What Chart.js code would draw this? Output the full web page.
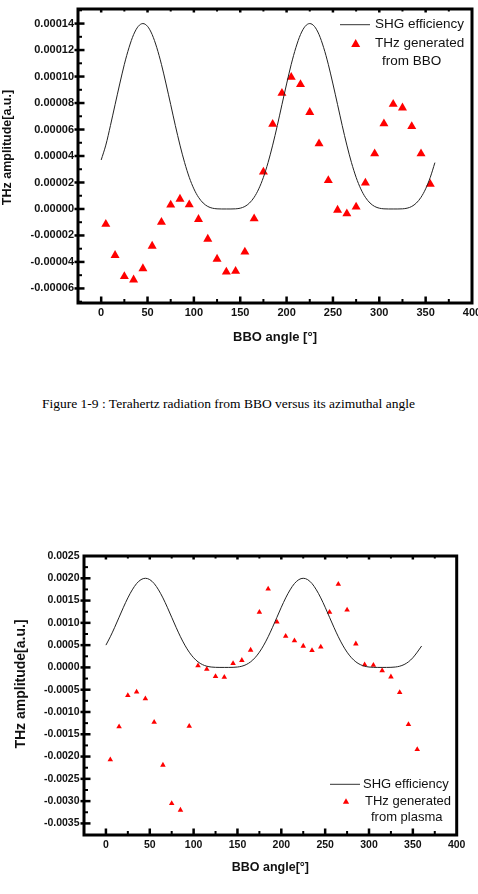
<!DOCTYPE html>
<html>
<head>
<meta charset="utf-8">
<script src="https://cdn.jsdelivr.net/npm/chart.js@4.4.1/dist/chart.umd.min.js"></script>
<style>
  html, body { margin: 0; padding: 0; background: #fff; }
  body { width: 478px; height: 894px; position: relative; overflow: hidden; }
  canvas { position: absolute; left: 0; }
  #c1 { top: 0; }
  #c2 { top: 540px; }
  #caption { position: absolute; left: 42px; top: 396px; font-family: "Liberation Serif", "Times New Roman", serif; font-size: 13.5px; color: #000; white-space: nowrap; }
</style>
</head>
<body>
<canvas id="c1" width="478" height="350"></canvas>
<div id="caption">Figure 1-9 : Terahertz radiation from BBO versus its azimuthal angle</div>
<canvas id="c2" width="478" height="354"></canvas>
<script>
// ---------- data ----------
const shgAngles = [0,5,10,15,20,25,30,35,40,45,50,55,60,65,70,75,80,85,90,95,100,105,110,115,120,125,130,135,140,145,150,155,160,165,170,175,180,185,190,195,200,205,210,215,220,225,230,235,240,245,250,255,260,265,270,275,280,285,290,295,300,305,310,315,320,325,330,335,340,345,350,355,360];

const shgBBO = [3.7e-5,4.82e-5,6.30e-5,7.88e-5,9.44e-5,10.92e-5,12.18e-5,13.17e-5,13.79e-5,14.0e-5,13.79e-5,13.17e-5,12.18e-5,10.92e-5,9.44e-5,7.88e-5,6.30e-5,4.82e-5,3.5e-5,2.39e-5,1.52e-5,0.88e-5,0.45e-5,0.19e-5,0.06e-5,0.01e-5,0,0,0,0.01e-5,0.06e-5,0.19e-5,0.45e-5,0.88e-5,1.52e-5,2.39e-5,3.5e-5,4.82e-5,6.30e-5,7.88e-5,9.44e-5,10.92e-5,12.18e-5,13.17e-5,13.79e-5,14.0e-5,13.79e-5,13.17e-5,12.18e-5,10.92e-5,9.44e-5,7.88e-5,6.30e-5,4.82e-5,3.5e-5,2.39e-5,1.52e-5,0.88e-5,0.45e-5,0.19e-5,0.06e-5,0.01e-5,0,0,0,0.01e-5,0.06e-5,0.19e-5,0.45e-5,0.88e-5,1.52e-5,2.39e-5,3.5e-5];

const shgPlasma = [0.0005,0.000688,0.0009,0.001125,0.00135,0.00156,0.00174,0.001882,0.00197,0.0020,0.00197,0.001882,0.00174,0.00156,0.00135,0.001125,0.0009,0.000688,0.0005,0.000342,0.000217,0.000125,0.000064,0.000027,0.000009,0.000002,0,0,0,0.000002,0.000009,0.000027,0.000064,0.000125,0.000217,0.000342,0.0005,0.000688,0.0009,0.001125,0.00135,0.00156,0.00174,0.001882,0.00197,0.0020,0.00197,0.001882,0.00174,0.00156,0.00135,0.001125,0.0009,0.000688,0.0005,0.000342,0.000217,0.000125,0.000064,0.000027,0.000009,0.000002,0,0,0,0.000002,0.000009,0.000027,0.000064,0.000125,0.000217,0.000342,0.00048];

const thzAngles = [5,15,25,35,45,55,65,75,85,95,105,115,125,135,145,155,165,175,185,195,205,215,225,235,245,255,265,275,285,295,305,315,325,335,345,355];

const thzBBO = [-1.15e-5,-3.5e-5,-5.1e-5,-5.35e-5,-4.5e-5,-2.8e-5,-1.0e-5,0.3e-5,0.75e-5,0.32e-5,-0.78e-5,-2.27e-5,-3.78e-5,-4.76e-5,-4.7e-5,-3.25e-5,-0.73e-5,2.8e-5,6.4e-5,8.75e-5,9.95e-5,9.4e-5,7.3e-5,4.93e-5,2.16e-5,-0.08e-5,-0.36e-5,0.15e-5,1.96e-5,4.17e-5,6.44e-5,7.92e-5,7.64e-5,6.24e-5,4.17e-5,1.88e-5];

const thzPlasma = [-0.00207,-0.00133,-0.00063,-0.00055,-0.00070,-0.00123,-0.00219,-0.00305,-0.00320,-0.00132,0.00004,-0.00004,-0.00020,-0.00022,0.00009,0.00016,0.00039,0.00124,0.00176,0.00102,0.00070,0.00060,0.00048,0.00038,0.00046,0.00124,0.00187,0.00129,0.00053,0.00006,0.00005,-0.00007,-0.00021,-0.00056,-0.00128,-0.00184];

const xTitleTop = 'BBO angle [°]';
const xTitleBottom = 'BBO angle[°]';
const yTitle = 'THz amplitude[a.u.]';
const legendLine = 'SHG efficiency';
const legendTri1 = ['THz generated', 'from BBO'];
const legendTri2 = ['THz generated', 'from plasma'];

// ---------- helpers ----------
const FONT = '"Liberation Sans", Arial, Helvetica, sans-serif';
function pts(xs, ys) { return xs.map((x, i) => ({ x: x, y: ys[i] })); }

function triangle(ctx, x, y, r) {
  ctx.beginPath();
  ctx.moveTo(x, y - r);
  ctx.lineTo(x + r * 0.866, y + r * 0.5);
  ctx.lineTo(x - r * 0.866, y + r * 0.5);
  ctx.closePath();
  ctx.fill();
}

function decor(cfg) {
  return {
    id: 'decor',
    afterDraw(chart) {
      const ctx = chart.ctx;
      const { left, right, top, bottom } = chart.chartArea;
      const xs = chart.scales.x, ys = chart.scales.y;
      ctx.save();
      ctx.strokeStyle = '#000';
      ctx.fillStyle = '#000';
      // x ticks (inside, bottom and top)
      for (let v = 0; v <= 400; v += 25) {
        const px = xs.getPixelForValue(v);
        if (px <= left + 1 || px >= right - 1) continue;
        const major = v % 50 === 0;
        ctx.lineWidth = major ? 2.5 : 2;
        ctx.beginPath();
        ctx.moveTo(px, bottom);
        ctx.lineTo(px, bottom - (major ? 6.5 : 4));
        ctx.moveTo(px, top);
        ctx.lineTo(px, top + (major ? 3.5 : 2.5));
        ctx.stroke();
      }
      // y ticks
      const vals = ys.ticks.map(t => t.value);
      const step = vals.length > 1 ? vals[1] - vals[0] : 0;
      const minors = [];
      for (let i = 0; i < vals.length - 1; i++) minors.push((vals[i] + vals[i + 1]) / 2);
      minors.push(vals[0] - step / 2);
      minors.push(vals[vals.length - 1] + step / 2);
      vals.forEach(v => {
        const py = ys.getPixelForValue(v);
        if (py <= top + 1 || py >= bottom - 1) return;
        ctx.lineWidth = 2.5;
        ctx.beginPath();
        ctx.moveTo(left - 3.5, py);
        ctx.lineTo(left + 6.5, py);
        ctx.stroke();
      });
      minors.forEach(v => {
        const py = ys.getPixelForValue(v);
        if (py <= top + 1 || py >= bottom - 1) return;
        ctx.lineWidth = 2;
        ctx.beginPath();
        ctx.moveTo(left, py);
        ctx.lineTo(left + 4, py);
        ctx.stroke();
      });
      // frame
      ctx.lineWidth = 3;
      ctx.strokeRect(left, top, right - left, bottom - top);
      // y title
      ctx.save();
      ctx.translate(cfg.yTitleX, cfg.yTitleY);
      ctx.rotate(-Math.PI / 2);
      ctx.font = 'bold ' + cfg.yTitleSize + 'px ' + FONT;
      ctx.textAlign = 'center';
      ctx.textBaseline = 'middle';
      ctx.fillStyle = '#111';
      ctx.fillText(yTitle, 0, 0);
      ctx.restore();
      // legend
      const L = cfg.legend;
      ctx.font = L.size + 'px ' + FONT;
      ctx.textAlign = 'left';
      ctx.textBaseline = 'middle';
      ctx.fillStyle = '#111';
      ctx.strokeStyle = '#333';
      ctx.lineWidth = 1;
      ctx.beginPath();
      ctx.moveTo(L.lineX0, L.y1);
      ctx.lineTo(L.lineX1, L.y1);
      ctx.stroke();
      ctx.fillText(legendLine, L.text1X, L.y1);
      ctx.fillText(L.lines[0], L.text2X, L.y2);
      ctx.fillText(L.lines[1], L.text3X, L.y3);
      ctx.fillStyle = '#ff0000';
      triangle(ctx, L.triX, L.y2 + L.triR * 0.25, L.triR);
      ctx.restore();
    }
  };
}

function makeChart(id, o) {
  return new Chart(document.getElementById(id), {
    type: 'scatter',
    data: {
      datasets: [
        {
          label: legendLine,
          data: pts(shgAngles, o.shg),
          showLine: true,
          borderColor: '#222',
          borderWidth: 1,
          pointRadius: 0,
          cubicInterpolationMode: 'monotone',
          fill: false
        },
        {
          label: o.triLabel,
          data: pts(thzAngles, o.thz),
          showLine: false,
          pointStyle: 'triangle',
          pointRadius: o.triR,
          backgroundColor: '#ff0000',
          borderColor: '#ff0000',
          borderWidth: 0
        }
      ]
    },
    options: {
      responsive: false,
      animation: false,
      devicePixelRatio: 1,
      layout: { padding: { top: o.padTop, right: o.padRight, bottom: 0, left: 0 } },
      plugins: { legend: { display: false }, tooltip: { enabled: false } },
      scales: {
        x: {
          type: 'linear',
          min: -25, max: 400,
          border: { display: false },
          grid: { display: false, drawTicks: false },
          ticks: {
            stepSize: 50, includeBounds: false, padding: o.xTickPad,
            color: '#111',
            font: { family: FONT, size: o.tickSize, weight: 'bold' },
            maxRotation: 0, autoSkip: false
          },
          title: {
            display: true, text: o.xTitle, color: '#111',
            font: { family: FONT, size: o.xTitleSize, weight: 'bold' },
            padding: { top: 0, bottom: o.xTitlePad }
          },
          afterFit(s) { s.height = o.xHeight; s.paddingLeft = 0; s.paddingRight = 0; }
        },
        y: {
          type: 'linear',
          min: o.yMin, max: o.yMax,
          border: { display: false },
          grid: { display: false, drawTicks: false },
          ticks: {
            stepSize: o.yStep, includeBounds: false, padding: o.yTickPad,
            color: '#111',
            font: { family: FONT, size: o.tickSize, weight: 'bold' },
            autoSkip: false,
            callback: (v) => (Math.abs(v) < 1e-12 ? 0 : v).toFixed(o.yDec)
          },
          afterFit(s) { s.width = o.yWidth; s.paddingTop = 0; s.paddingBottom = 0; }
        }
      }
    },
    plugins: [decor(o.decor)]
  });
}

makeChart('c1', {
  shg: shgBBO, thz: thzBBO, triLabel: 'THz generated from BBO', triR: 5.2,
  padTop: 9, padRight: 6, xHeight: 47, yWidth: 78,
  yMin: -0.000071, yMax: 0.000151, yStep: 0.00002, yDec: 5,
  tickSize: 11, xTickPad: 3.5, yTickPad: 4,
  xTitle: xTitleTop, xTitleSize: 13, xTitlePad: 4.5,
  decor: {
    yTitleX: 7.5, yTitleY: 147.5, yTitleSize: 12.5,
    legend: { size: 13.5, lineX0: 340, lineX1: 370, y1: 24.7, text1X: 375,
      triX: 355.7, triR: 5.2, y2: 43, text2X: 375, y3: 61.7, text3X: 382, lines: legendTri1 }
  }
});

makeChart('c2', {
  shg: shgPlasma, thz: thzPlasma, triLabel: 'THz generated from plasma', triR: 3.2,
  padTop: 16, padRight: 21.3, xHeight: 59, yWidth: 84,
  yMin: -0.00376, yMax: 0.0025, yStep: 0.0005, yDec: 4,
  tickSize: 10.5, xTickPad: 4, yTickPad: 4.5,
  xTitle: xTitleBottom, xTitleSize: 12.5, xTitlePad: 18.5,
  decor: {
    yTitleX: 20.7, yTitleY: 144, yTitleSize: 14,
    legend: { size: 13, lineX0: 330, lineX1: 360, y1: 244.3, text1X: 363,
      triX: 346, triR: 3.6, y2: 261, text2X: 365, y3: 277.3, text3X: 371, lines: legendTri2 }
  }
});
</script>
</body>
</html>
